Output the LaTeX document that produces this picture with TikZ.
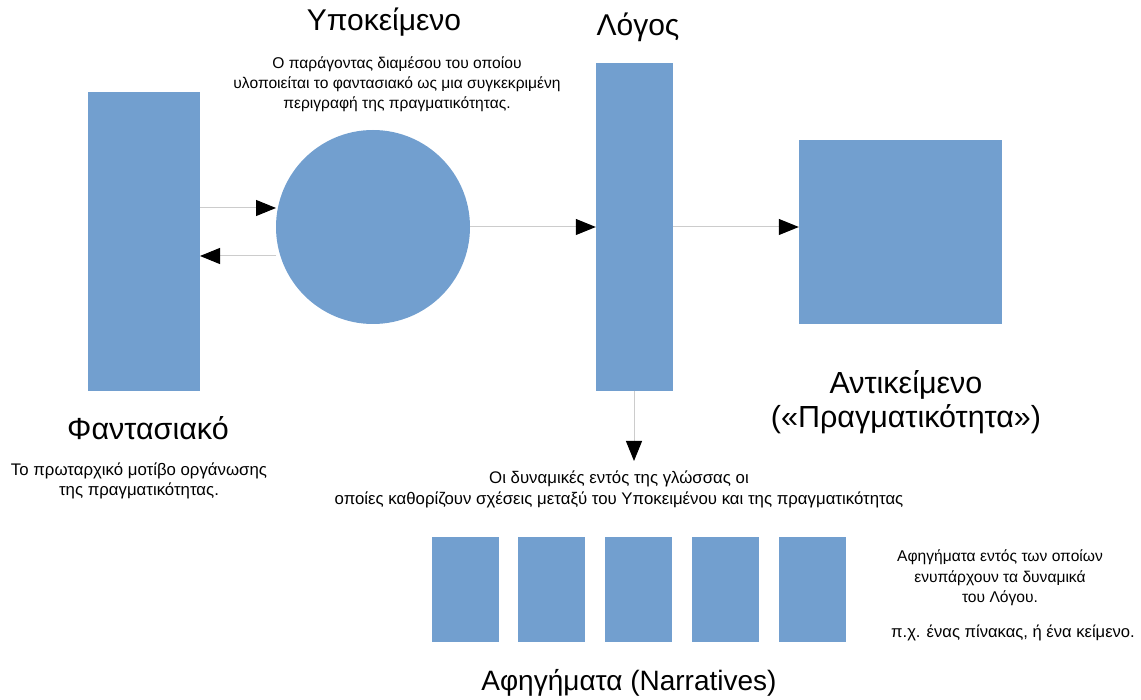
\documentclass[tikz,border=0pt]{standalone}
\usepackage{fontspec}
\setmainfont{Liberation Sans}
\usetikzlibrary{arrows.meta}
\definecolor{boxblue}{HTML}{729FCF}
\definecolor{linegray}{HTML}{CCCCCC}
\begin{document}
\begin{tikzpicture}[x=1pt,y=-1pt,
  blk/.style={fill=boxblue,draw=none},
  conn/.style={draw=linegray,line width=1pt,-{Triangle[length=20pt,width=16pt,fill=black,color=black]}},
  big/.style={font=\fontsize{29}{34}\selectfont,align=center},
  small/.style={font=\fontsize{16}{20.5}\selectfont,align=center}]
\useasboundingbox (0,0) rectangle (1141,700);
% shapes
\node[blk,rectangle,minimum width=112pt,minimum height=299pt,inner sep=0pt] (fant) at (144,241.5) {};
\node[blk,circle,minimum size=194pt,inner sep=0pt] (subj) at (373,227) {};
\node[blk,rectangle,minimum width=77pt,minimum height=328pt,inner sep=0pt] (logos) at (634.5,227) {};
\node[blk,rectangle,minimum width=203pt,minimum height=184pt,inner sep=0pt] (obj) at (900.5,232) {};
\coordinate (fl1) at (200,208);
\coordinate (fl2) at (200,256);
\coordinate (c1) at (276,208);
\coordinate (c2) at (276,256);
\coordinate (lb) at (634,391);
\coordinate (dn) at (634,461);
\foreach \x [count=\i] in {432,518,605,692,779}{\node[blk,rectangle,minimum width=67pt,minimum height=105pt,inner sep=0pt] (n\i) at (\x+33.5,589.5) {};}
% connectors
\draw[conn] (fl1) -- (c1);
\draw[conn] (c2) -- (fl2);
\draw[conn] (subj.east) -- (logos.west);
\draw[conn] (logos.east) -- (obj.west |- logos.east);
\draw[conn] (lb) -- (dn);
% texts
\node[big,font=\fontsize{30}{34}\selectfont] (t1) at (384,22) {Υποκείμενο};
\node[small,font=\fontsize{15.6}{20}\selectfont] (t2) at (397,84) {Ο παράγοντας διαμέσου του οποίου\\υλοποιείται το φαντασιακό ως μια συγκεκριμένη\\περιγραφή της πραγματικότητας.};
\node[big,font=\fontsize{30}{34}\selectfont] (t3) at (638,27) {Λόγος};
\node[big,font=\fontsize{30.5}{34}\selectfont] (t4) at (148,428) {Φαντασιακό};
\node[small,font=\fontsize{16.8}{20.5}\selectfont] (t5) at (139,481) {Το πρωταρχικό μοτίβο οργάνωσης\\της πραγματικότητας.};
\node[big,font=\fontsize{30.5}{34.5}\selectfont] (t6) at (906,402) {Αντικείμενο\\(«Πραγματικότητα»)};
\node[small,font=\fontsize{16.8}{21}\selectfont] (t7) at (619,489) {Οι δυναμικές εντός της γλώσσας οι\\οποίες καθορίζουν σχέσεις μεταξύ του Υποκειμένου και της πραγματικότητας};
\node[big,font=\fontsize{28}{34}\selectfont] (t8) at (629,683) {Αφηγήματα (Narratives)};
\node[small,font=\fontsize{15.6}{20.5}\selectfont] (t9) at (1000,578) {Αφηγήματα εντός των οποίων\\ενυπάρχουν τα δυναμικά\\του Λόγου.};
\node[small,font=\fontsize{16.6}{20}\selectfont] (t10) at (1013,633) {π.χ. ένας πίνακας, ή ένα κείμενο.};
\end{tikzpicture}
\end{document}
